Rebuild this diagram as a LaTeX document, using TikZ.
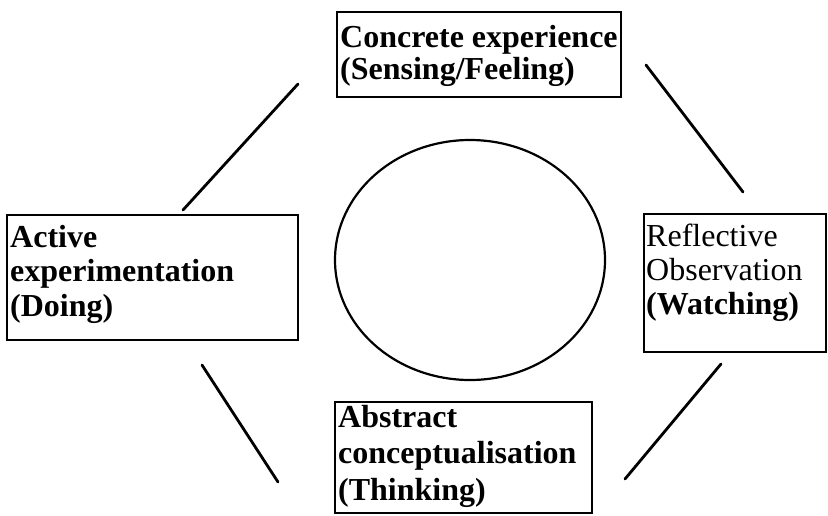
\documentclass[tikz,border=0pt]{standalone}
\usepackage{fontspec}
\setmainfont{Liberation Serif}
\usetikzlibrary{shapes.geometric}
\begin{document}
\begin{tikzpicture}[x=1pt,y=-1pt,
  stagebox/.style={draw, line width=1.8pt, rectangle, inner sep=0pt},
  stagetext/.style={anchor=base west, inner sep=0pt, align=left},
  link/.style={line width=2.8pt, line cap=round}]
  \useasboundingbox (0,0) rectangle (828,515);

  % the four stage boxes
  \node[stagebox, minimum width=284pt, minimum height=85pt]  (ce) at (479,54.5) {};
  \node[stagebox, minimum width=291pt, minimum height=125pt] (ae) at (152.5,277.5) {};
  \node[stagebox, minimum width=182pt, minimum height=138pt] (ro) at (735,283) {};
  \node[stagebox, minimum width=257pt, minimum height=111pt] (ac) at (463.5,457.5) {};

  % their labels (anchored at the baseline of the last line)
  \node[stagetext, font=\fontsize{32}{32}\selectfont] (ceT) at (340,79)
    {\bfseries Concrete experience\\\bfseries (Sensing/Feeling)};
  \node[stagetext, font=\fontsize{32}{34.5}\selectfont] (aeT) at (10,316)
    {\bfseries Active\\\bfseries experimentation\\\bfseries (Doing)};
  \node[stagetext, font=\fontsize{32}{34}\selectfont] (roT) at (646,314)
    {Reflective\\Observation\\\bfseries (Watching)};
  \node[stagetext, font=\fontsize{32}{36.5}\selectfont] (acT) at (338,500)
    {\bfseries Abstract\\\bfseries conceptualisation\\\bfseries (Thinking)};

  % the cycle in the middle
  \node[draw, ellipse, line width=2.2pt, minimum width=270pt, minimum height=240pt] (cyc) at (470,260) {};

  % free-standing strokes between the stages
  \coordinate (a1) at (298,84);  \coordinate (a2) at (183,210);
  \coordinate (b1) at (646,65);  \coordinate (b2) at (743,192);
  \coordinate (c1) at (721,364); \coordinate (c2) at (625,479);
  \coordinate (d1) at (202,365); \coordinate (d2) at (278,482);
  \draw[link] (a1) -- (a2);
  \draw[link] (b1) -- (b2);
  \draw[link] (c1) -- (c2);
  \draw[link] (d1) -- (d2);
\end{tikzpicture}
\end{document}
